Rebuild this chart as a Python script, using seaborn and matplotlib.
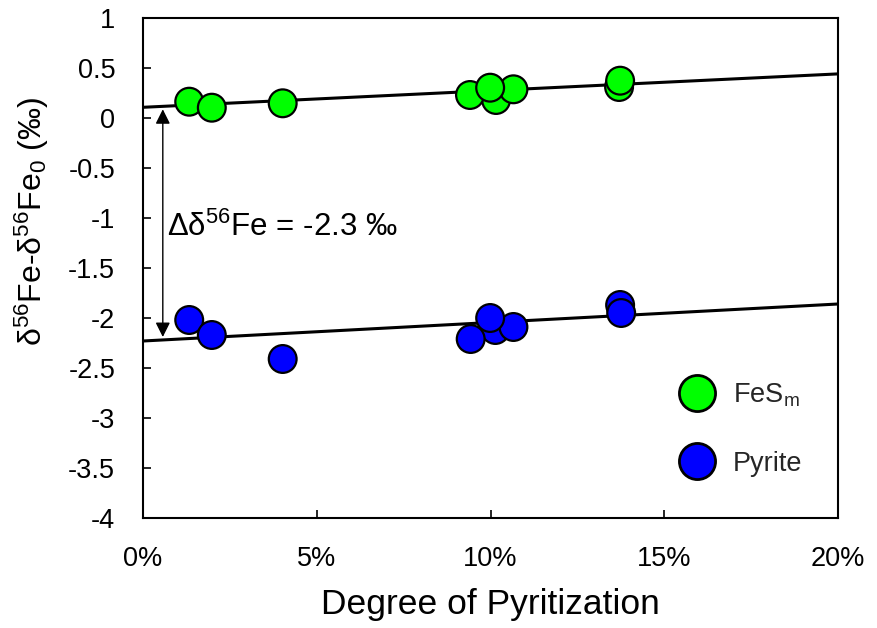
import numpy as np
import pandas as pd
import matplotlib
matplotlib.use("Agg")
import matplotlib.pyplot as plt
import seaborn as sns
from matplotlib.lines import Line2D
from matplotlib.ticker import PercentFormatter, FuncFormatter

# ---- data ----
fes_dop = [0.0133, 0.0198, 0.0402, 0.1016, 0.0941, 0.1066, 0.0999, 0.1370, 0.1373]
fes_d56 = [0.163, 0.103, 0.147, 0.180, 0.230, 0.287, 0.303, 0.310, 0.373]
pyr_dop = [0.0133, 0.0198, 0.0402, 0.1014, 0.0943, 0.1066, 0.0999, 0.1373, 0.1376]
pyr_d56 = [-2.02, -2.17, -2.41, -2.12, -2.21, -2.09, -2.00, -1.87, -1.95]
fes_fit = [0.107, 1.67]    # intercept, slope
pyr_fit = [-2.23, 1.85]
delta_label = "-2.3 ‰"
x_ticks = [0, 0.05, 0.10, 0.15, 0.20]
y_ticks = [1, 0.5, 0, -0.5, -1, -1.5, -2, -2.5, -3, -3.5, -4]

sns.set_theme(style="white")
plt.rcParams['font.family'] = ['Liberation Sans', 'DejaVu Sans']
plt.rcParams['mathtext.fontset'] = 'custom'
plt.rcParams['mathtext.rm'] = 'Liberation Sans'
plt.rcParams['mathtext.it'] = 'Liberation Sans:italic'
plt.rcParams['mathtext.default'] = 'regular'

df = pd.DataFrame({
    "dop": fes_dop + pyr_dop,
    "d56": fes_d56 + pyr_d56,
    "mineral": ["FeS"] * len(fes_dop) + ["Pyrite"] * len(pyr_dop),
})
colors = {"FeS": "#00FF00", "Pyrite": "#0000FF"}

fig = plt.figure(figsize=(8.77, 6.28), dpi=100)
ax = fig.add_axes([143/877, 1 - 518/628, (838-143)/877, 500/628])

xx = np.array([0.0, 0.20])
fit_df = pd.DataFrame({
    "x": np.concatenate([xx, xx]),
    "y": np.concatenate([fes_fit[0] + fes_fit[1]*xx, pyr_fit[0] + pyr_fit[1]*xx]),
    "g": ["FeS", "FeS", "Pyrite", "Pyrite"],
})
sns.lineplot(data=fit_df, x="x", y="y", units="g", estimator=None,
             color="black", lw=2.2, ax=ax, zorder=2)

sns.scatterplot(data=df, x="dop", y="d56", hue="mineral", palette=colors,
                s=400, edgecolor="black", linewidth=1.6, ax=ax, zorder=3,
                legend=False)

ax.set_xlim(0, 0.20)
ax.set_ylim(-4, 1)
ax.set_xticks(x_ticks)
ax.set_yticks(y_ticks)
ax.xaxis.set_major_formatter(PercentFormatter(1.0, decimals=0))
ax.yaxis.set_major_formatter(FuncFormatter(lambda v, p: f"{v:g}"))
ax.tick_params(axis="both", direction="in", length=6, width=1.2, colors="black",
               labelsize=19.5, bottom=True, left=True)
ax.tick_params(axis="y", pad=20)
ax.tick_params(axis="x", pad=20)
for sp in ax.spines.values():
    sp.set_color("black")
    sp.set_linewidth(1.5)

ax.set_xlabel("Degree of Pyritization", fontsize=25.5, color="black", labelpad=12)
ax.set_ylabel("δ$^{56}$Fe-δ$^{56}$Fe$_{0}$ (‰)", fontsize=23, color="black")
ax.yaxis.set_label_coords(-0.133, 0.592)

# arrow between lines
ax.annotate("", xy=(0.0057, fes_fit[0] - 0.02), xytext=(0.0057, pyr_fit[0] + 0.04),
            arrowprops=dict(arrowstyle="<|-|>", color="black", lw=1.0,
                            mutation_scale=22, shrinkA=0, shrinkB=0))
ax.text(0.0068, -1.09, "Δδ$^{56}$Fe = " + delta_label, fontsize=22.5,
        ha="left", va="center", color="black")

handles = [
    Line2D([], [], ls="none", marker="o", markersize=26, markerfacecolor=colors["FeS"],
           markeredgecolor="black", markeredgewidth=2),
    Line2D([], [], ls="none", marker="o", markersize=26, markerfacecolor=colors["Pyrite"],
           markeredgecolor="black", markeredgewidth=2),
]
ax.legend(handles, ["FeS$_{m}$", "Pyrite"], loc="upper left",
          bbox_to_anchor=(0.742, 0.322), frameon=False, fontsize=19.5,
          labelspacing=1.55, handlelength=1.0, handletextpad=0.85)

fig.savefig("out.png", dpi=100)
